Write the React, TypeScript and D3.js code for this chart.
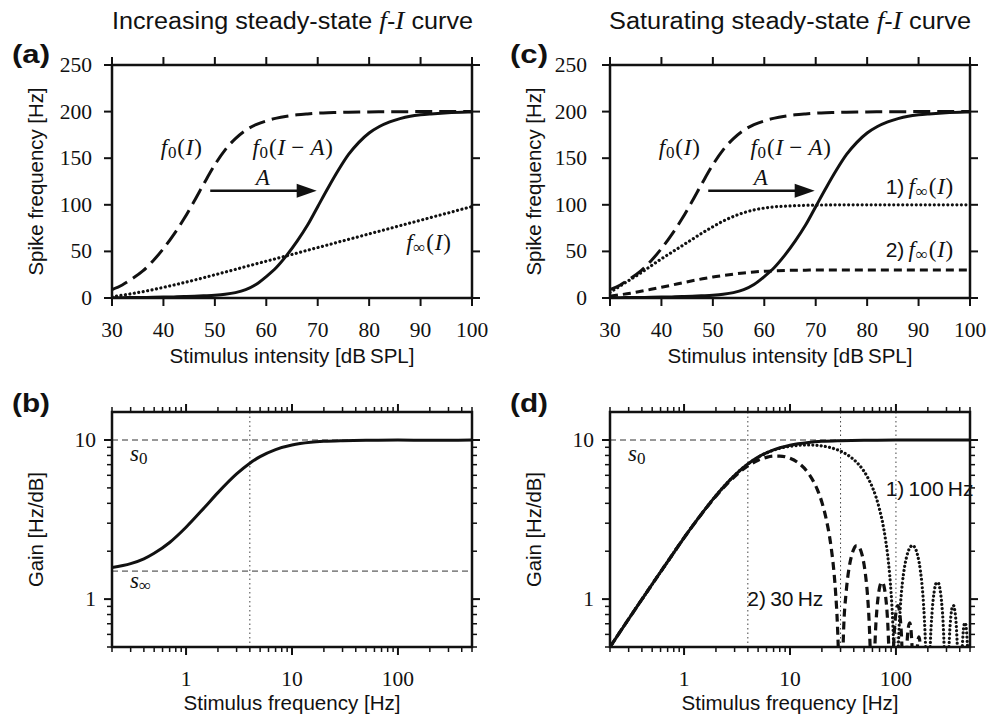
import React from 'react';
import * as d3 from 'd3';

// ---------- data: panels (a) and (c) ----------
const intensity = [30,32,34,36,38,40,42,44,46,48,50,52,54,56,58,60,62,64,66,68,70,72,74,76,78,80,82,84,86,88,90,92,94,96,98,100];
const f0Onset = [9,14,21,29,40,53,68,85,104,124,143,159,171,180,186,190,193,195,196.5,197.5,198.3,198.8,199.1,199.4,199.6,199.7,199.8,199.85,199.9,199.95,200,200,200,200,200,200];
const f0Shifted = [0.3,0.4,0.5,0.6,0.8,1.0,1.2,1.5,1.9,2.4,3.0,4.0,5.8,9,14.5,23,33,46,61,78,98,118,137,154,167,177,184,189,192.5,195,196.5,197.5,198.3,198.9,199.3,199.6];
const fInfLinear = [1.5,3,4.8,6.8,9,11.4,13.9,16.5,19.2,22,24.9,27.8,30.7,33.7,36.6,39.5,42.4,45.3,48.2,51.2,54.1,57,60,62.9,65.8,68.8,71.7,74.6,77.6,80.5,83.4,86.4,89.3,92.2,95.2,98.1];
const fInfSat100 = [6,13,20,27,34.5,42,49,56,63,70,76.5,82.5,87.5,91.5,94.5,96.5,97.8,98.6,99.1,99.5,99.7,99.85,100,100,100,100,100,100,100,100,100,100,100,100,100,100];
const fInfSat30 = [2,3.5,5.2,7.2,9.3,11.5,13.8,16.2,18.5,20.6,22.5,24.1,25.6,26.9,27.9,28.7,29.2,29.6,29.8,29.9,30,30,30,30,30,30,30,30,30,30,30,30,30,30,30,30];
const intensityTicks = [30,40,50,60,70,80,90,100];
const rateTicks = [0,50,100,150,200,250];

// ---------- data: panels (b) and (d) ----------
const gainFreq = [0.2,0.3,0.4,0.5,0.7,1,1.5,2,3,4,5,7,10,15,20,30,50,100,200,300,500];
const gainIncreasing = [1.58,1.67,1.79,1.94,2.27,2.83,3.78,4.67,6.12,7.15,7.86,8.71,9.30,9.67,9.81,9.91,9.97,9.99,9.96,9.96,10];
const gainSaturating = [0.5,0.75,0.995,1.24,1.72,2.43,3.51,4.47,6.0,7.07,7.81,8.68,9.28,9.66,9.81,9.91,9.97,9.99,10,10,10];

const sat30Freq = [0.2,0.3,0.5,0.7,1,1.5,2,3,4,5,6,7,8,10,12,15,18,20,22,24,26,27,28,29,30,
  32,34,36,38,40,42,44,46,48,50,52,54,56,58,60,
  62,64,66,68,70,72,74,76,78,80,82,84,86,88,90,
  92,95,98,101,104,107,110,113,116,120,
  125,130,135,140,145,150,155,160,165,170,175,180];
const sat30Gain = [0.5,0.75,1.24,1.72,2.43,3.5,4.44,5.9,6.87,7.46,7.78,7.92,7.93,7.67,7.18,6.15,4.93,4.06,3.17,2.31,1.48,1.08,0.70,0.34,0.1,
  0.62,1.13,1.55,1.86,2.06,2.16,2.16,2.06,1.89,1.65,1.36,1.04,0.69,0.34,0.1,
  0.32,0.61,0.85,1.04,1.18,1.26,1.28,1.25,1.16,1.03,0.87,0.67,0.45,0.23,0.1,
  0.22,0.5,0.72,0.86,0.91,0.87,0.75,0.57,0.33,0.1,
  0.38,0.64,0.71,0.59,0.33,0.1,0.31,0.52,0.58,0.49,0.27,0.1];

const sat100Freq = [0.2,0.3,0.5,0.7,1,1.5,2,3,4,5,7,10,15,20,25,30,35,40,45,50,55,60,65,70,75,80,85,90,93,96,100,
  105,110,115,120,125,130,135,140,145,150,155,160,165,170,175,180,185,190,195,200,
  210,220,230,240,250,260,270,280,290,300,
  310,320,330,340,350,360,370,380,390,400,
  410,420,430,440,450,460,470,480,490,500];
const sat100Gain = [0.5,0.75,1.24,1.72,2.43,3.51,4.47,6.0,7.06,7.79,8.64,9.13,9.31,9.18,8.9,8.51,8.05,7.53,6.96,6.35,5.70,5.04,4.36,3.67,3.0,2.33,1.70,1.09,0.75,0.42,0.1,
  0.47,0.89,1.26,1.56,1.80,1.98,2.10,2.16,2.17,2.12,2.03,1.89,1.72,1.51,1.29,1.04,0.78,0.52,0.26,0.1,
  0.47,0.85,1.12,1.26,1.27,1.16,0.95,0.67,0.34,0.1,
  0.32,0.58,0.78,0.89,0.91,0.84,0.70,0.49,0.25,0.1,
  0.24,0.45,0.60,0.69,0.71,0.66,0.55,0.39,0.2,0.1];

const s0 = 10;
const sInf = 1.5;
const cutoffLines = [4, 30, 100];

// ---------- styles ----------
const INK = '#111';
const SERIF = '"Liberation Serif", "Times New Roman", serif';
const SANS = '"Liberation Sans", Arial, Helvetica, sans-serif';

function zip(xs: number[], ys: number[]) {
  return xs.map((x, i) => [x, ys[i]] as [number, number]);
}

function Curve({ x, y, xs, ys, dash, width = 3, round = false, clip }: any) {
  const gen = d3.line<[number, number]>().x(d => x(d[0])).y(d => y(d[1])).curve(d3.curveMonotoneX);
  return (
    <path d={gen(zip(xs, ys)) || ''} fill="none" stroke={INK} strokeWidth={width}
      strokeDasharray={dash} strokeLinecap={round ? 'round' : 'butt'} clipPath={`url(#${clip})`} />
  );
}

function Axes({ x, y, xTicks, yTicks, isMajorX, isMajorY, fmtX, fmtY, yGap }: any) {
  const [x0, x1] = x.range();
  const [y0, y1] = y.range();
  const els: any[] = [];
  xTicks.forEach((v: number, i: number) => {
    const px = x(v);
    const major = isMajorX(v);
    const L = major ? 8 : 5;
    const w = major ? 2 : 1.5;
    els.push(<line key={'xb' + i} x1={px} x2={px} y1={y0} y2={y0 + L} stroke={INK} strokeWidth={w} />);
    els.push(<line key={'xt' + i} x1={px} x2={px} y1={y1} y2={y1 - L} stroke={INK} strokeWidth={w} />);
    if (major) els.push(
      <text key={'xl' + i} x={px} y={y0 + 39} textAnchor="middle" fontFamily={SERIF} fontSize={21.5} fill={INK}>{fmtX(v)}</text>
    );
  });
  yTicks.forEach((v: number, i: number) => {
    const py = y(v);
    const major = isMajorY(v);
    const L = major ? 8 : 5;
    const w = major ? 2 : 1.5;
    els.push(<line key={'yl' + i} x1={x0} x2={x0 - L} y1={py} y2={py} stroke={INK} strokeWidth={w} />);
    els.push(<line key={'yr' + i} x1={x1} x2={x1 + L} y1={py} y2={py} stroke={INK} strokeWidth={w} />);
    if (major) els.push(
      <text key={'yt' + i} x={x0 - yGap} y={py + 7} textAnchor="end" fontFamily={SERIF} fontSize={21.5} fill={INK}>{fmtY(v)}</text>
    );
  });
  els.push(<rect key="frame" x={x0} y={y1} width={x1 - x0} height={y0 - y1} fill="none" stroke={INK} strokeWidth={2.5} />);
  return <g>{els}</g>;
}

function Sub({ children }: any) {
  return <tspan fontSize={17} dy={3} fontStyle="normal">{children}</tspan>;
}

function MathF({ x, y, sub, shifted = false, prefix }: any) {
  return (
    <text x={x} y={y} fontFamily={SERIF} fontSize={23} fill={INK} letterSpacing={0.8}>
      {prefix ? <tspan fontFamily={SANS} fontSize={21} letterSpacing={0}>{prefix}</tspan> : null}
      <tspan fontStyle="italic">f</tspan>
      <Sub>{sub}</Sub>
      <tspan dy={-3}>(</tspan>
      <tspan fontStyle="italic">I</tspan>
      {shifted ? <tspan>{'\u2009\u2212\u2009'}</tspan> : null}
      {shifted ? <tspan fontStyle="italic">A</tspan> : null}
      <tspan>)</tspan>
    </text>
  );
}

function Arrow({ x1, x2, y }: any) {
  return (
    <g>
      <line x1={x1} x2={x2 - 18} y1={y} y2={y} stroke={INK} strokeWidth={2.6} />
      <polygon points={`${x2 - 20},${y - 7} ${x2},${y} ${x2 - 20},${y + 7}`} fill={INK} />
    </g>
  );
}

function Title({ x, y, len, lead }: any) {
  return (
    <text x={x} y={y} fontFamily={SANS} fontSize={23} fill={INK} textLength={len} lengthAdjust="spacingAndGlyphs">
      {lead + ' '}
      <tspan fontFamily={SERIF} fontStyle="italic" fontSize={25}>f</tspan>
      <tspan>-</tspan>
      <tspan fontFamily={SERIF} fontStyle="italic" fontSize={25}>I</tspan>
      {' curve'}
    </text>
  );
}

function PanelLabel({ x, y, t }: any) {
  return (
    <text x={x} y={y} fontFamily={SANS} fontWeight="bold" fontSize={25} fill={INK} textLength={38} lengthAdjust="spacingAndGlyphs">{t}</text>
  );
}

function XLabel({ cx, y, t, len }: any) {
  return <text x={cx} y={y} textAnchor="middle" fontFamily={SANS} fontSize={20} fill={INK} textLength={len} lengthAdjust="spacingAndGlyphs">{t}</text>;
}
function YLabel({ x, cy, t, len }: any) {
  return <text transform={`translate(${x},${cy}) rotate(-90)`} textAnchor="middle" fontFamily={SANS} fontSize={20} fill={INK} textLength={len} lengthAdjust="spacingAndGlyphs">{t}</text>;
}

function RatePanel({ left, id, saturating }: any) {
  const top = 65, bottom = 298, right = left + 360;
  const x = d3.scaleLinear().domain([30, 100]).range([left, right]);
  const y = d3.scaleLinear().domain([0, 250]).range([bottom, top]);
  const clip = 'clip-' + id;
  return (
    <g>
      <defs><clipPath id={clip}><rect x={left} y={top} width={right - left} height={bottom - top} /></clipPath></defs>
      <Curve x={x} y={y} xs={intensity} ys={f0Onset} dash="17 7" clip={clip} />
      <Curve x={x} y={y} xs={intensity} ys={f0Shifted} clip={clip} />
      {saturating ? (
        <g>
          <Curve x={x} y={y} xs={intensity} ys={fInfSat100} dash="0.01 4.5" round width={3.2} clip={clip} />
          <Curve x={x} y={y} xs={intensity} ys={fInfSat30} dash="8 5" width={3} clip={clip} />
        </g>
      ) : (
        <Curve x={x} y={y} xs={intensity} ys={fInfLinear} dash="0.01 4.5" round width={3.2} clip={clip} />
      )}
      <Axes x={x} y={y} xTicks={intensityTicks} yTicks={rateTicks} isMajorX={() => true} isMajorY={() => true}
        fmtX={(v: number) => String(v)} fmtY={(v: number) => String(v)} yGap={saturating ? 23 : 20} />
      <MathF x={x(39.5)} y={y(153)} sub="0" />
      <MathF x={x(57.3)} y={y(153)} sub="0" shifted />
      <text x={x(59.3)} y={y(121)} textAnchor="middle" fontFamily={SERIF} fontStyle="italic" fontSize={23} fill={INK}>A</text>
      <Arrow x1={x(49.1)} x2={x(69.8)} y={y(115)} />
      {saturating ? (
        <g>
          <MathF x={x(83.6)} y={y(112)} sub={'\u221e'} prefix={'1)\u2009'} />
          <MathF x={x(83.6)} y={y(44)} sub={'\u221e'} prefix={'2)\u2009'} />
        </g>
      ) : (
        <MathF x={x(87.2)} y={y(52)} sub={'\u221e'} />
      )}
      <XLabel cx={(left + right) / 2} y={363} t={'Stimulus intensity [dB\u2009SPL]'} len={245} />
      <YLabel x={left - 69} cy={(top + bottom) / 2} t="Spike frequency [Hz]" len={188} />
    </g>
  );
}

function GainPanel({ left, id, saturating }: any) {
  const top = 412, bottom = 647, right = left + 360;
  const x = d3.scaleLog().domain([0.2, 500]).range([left, right]);
  const y = d3.scaleLog().domain([0.5, 15]).range([bottom, top]);
  const clip = 'clip-' + id;
  const isPow = (v: number) => Math.abs(Math.log10(v) - Math.round(Math.log10(v))) < 1e-9;
  const vlines = saturating ? cutoffLines : cutoffLines.slice(0, 1);
  return (
    <g>
      <defs><clipPath id={clip}><rect x={left} y={top} width={right - left} height={bottom - top} /></clipPath></defs>
      <line x1={left} x2={right} y1={y(s0)} y2={y(s0)} stroke="#333" strokeWidth={1} strokeDasharray="6 4" />
      {!saturating ? <line x1={left} x2={right} y1={y(sInf)} y2={y(sInf)} stroke="#333" strokeWidth={1} strokeDasharray="6 4" /> : null}
      {vlines.map((f: number) => (
        <line key={f} x1={x(f)} x2={x(f)} y1={top} y2={bottom} stroke="#444" strokeWidth={1} strokeDasharray="1.5 3" />
      ))}
      {saturating ? (
        <g>
          <Curve x={x} y={y} xs={sat100Freq} ys={sat100Gain} dash="0.01 4.2" round width={3.2} clip={clip} />
          <Curve x={x} y={y} xs={sat30Freq} ys={sat30Gain} dash="8 5" width={3.2} clip={clip} />
          <Curve x={x} y={y} xs={gainFreq} ys={gainSaturating} clip={clip} />
        </g>
      ) : (
        <Curve x={x} y={y} xs={gainFreq} ys={gainIncreasing} clip={clip} />
      )}
      <Axes x={x} y={y} xTicks={x.ticks()} yTicks={y.ticks()} isMajorX={isPow} isMajorY={isPow}
        fmtX={(v: number) => String(v)} fmtY={(v: number) => String(v)} yGap={16} />
      <text x={left + 18} y={461} fontFamily={SERIF} fontSize={23} fill={INK}>
        <tspan fontStyle="italic">s</tspan><Sub>0</Sub>
      </text>
      {!saturating ? (
        <text x={left + 18} y={588} fontFamily={SERIF} fontSize={23} fill={INK}>
          <tspan fontStyle="italic">s</tspan><Sub>{'\u221e'}</Sub>
        </text>
      ) : null}
      {saturating ? (
        <g>
          <text x={x(80)} y={496} fontFamily={SANS} fontSize={21} fill={INK}>{'1)\u2009100\u2009Hz'}</text>
          <text x={x(3.95)} y={606} fontFamily={SANS} fontSize={21} fill={INK}>{'2)\u200930\u2009Hz'}</text>
        </g>
      ) : null}
      <XLabel cx={(left + right) / 2} y={710} t="Stimulus frequency [Hz]" len={217} />
      <YLabel x={left - 69} cy={(top + bottom) / 2} t="Gain [Hz/dB]" len={115} />
    </g>
  );
}

export default function App() {
  return (
    <svg width={989} height={718} style={{ position: 'absolute', left: 0, top: 0, background: '#fff' }}>
      <rect x={0} y={0} width={989} height={718} fill="#fff" />
      <Title x={112} y={29} len={361} lead="Increasing steady-state" />
      <Title x={609} y={29} len={362} lead="Saturating steady-state" />
      <PanelLabel x={12} y={63} t="(a)" />
      <PanelLabel x={510} y={63} t="(c)" />
      <PanelLabel x={12} y={412} t="(b)" />
      <PanelLabel x={510} y={412} t="(d)" />
      <RatePanel left={112} id="a" saturating={false} />
      <RatePanel left={610} id="c" saturating />
      <GainPanel left={112} id="b" saturating={false} />
      <GainPanel left={610} id="d" saturating />
    </svg>
  );
}
